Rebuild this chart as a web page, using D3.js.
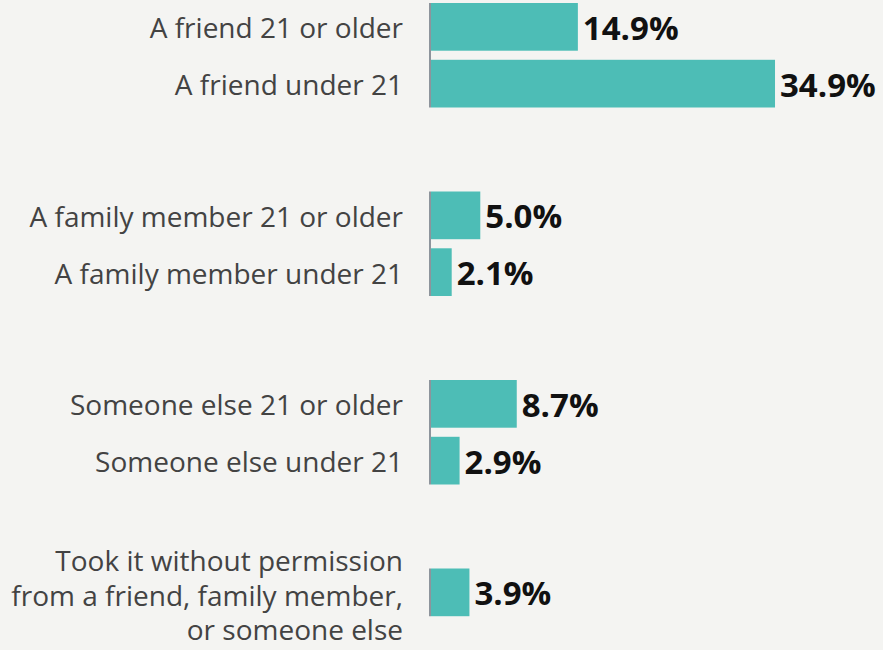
<!DOCTYPE html>
<html>
<head>
<meta charset="utf-8">
<script src="https://cdn.jsdelivr.net/npm/d3@7/dist/d3.min.js"></script>
<style>
  html, body { margin: 0; padding: 0; background: #f4f4f2; }
  svg { display: block; }
</style>
</head>
<body>
<svg id="chart" width="883" height="650"></svg>
<script>
// Source of alcohol: share of respondents by who provided it
const groups = ["friend", "family", "someone", "took"];
const categories = [
  ["A friend 21 or older"],
  ["A friend under 21"],
  ["A family member 21 or older"],
  ["A family member under 21"],
  ["Someone else 21 or older"],
  ["Someone else under 21"],
  ["Took it without permission", "from a friend, family member,", "or someone else"]
];
const groupOf = ["friend", "friend", "family", "family", "someone", "someone", "took"];
const values = [14.9, 34.9, 5.0, 2.1, 8.7, 2.9, 3.9];

const rows = values.map((v, i) => ({
  lines: categories[i],
  group: groupOf[i],
  value: v,
  index: groupOf.slice(0, i).filter(g => g === groupOf[i]).length
}));

const svg = d3.select("#chart");

const axisX = 431;
const x = d3.scaleLinear().domain([0, 35]).range([axisX, 776]);

// Groups stacked vertically; bars within each group
const gy = d3.scaleBand().domain(groups).range([3, 3 + 188.5 * groups.length]).padding(0);
const inner = d3.scaleBand().domain([0, 1]).range([0, 104.5]).paddingInner(0.16).paddingOuter(0);

const barColor = "#4dbdb6";
const rowTop = d => gy(d.group) + inner(d.index);
const rowMid = d => rowTop(d) + inner.bandwidth() / 2;

// Gray baseline next to each group of bars
groups.forEach(g => {
  const members = rows.filter(r => r.group === g);
  const top = d3.min(members, rowTop);
  const bottom = d3.max(members, r => rowTop(r) + inner.bandwidth());
  svg.append("line")
    .attr("x1", axisX - 1).attr("x2", axisX - 1)
    .attr("y1", top).attr("y2", bottom)
    .attr("stroke", "#8d949c")
    .attr("stroke-width", 2);
});

svg.append("g").selectAll("rect")
  .data(rows)
  .join("rect")
  .attr("x", x(0))
  .attr("y", rowTop)
  .attr("width", d => x(d.value) - x(0))
  .attr("height", inner.bandwidth())
  .attr("fill", barColor);

// Value labels
svg.append("g").selectAll("text")
  .data(rows)
  .join("text")
  .attr("x", d => x(d.value) + 5)
  .attr("y", d => rowMid(d) + 13)
  .attr("font-family", "'Open Sans', sans-serif")
  .attr("font-weight", 700)
  .attr("font-size", 33)
  .attr("fill", "#111111")
  .text(d => d3.format(".1f")(d.value) + "%");

// Category labels (right-aligned, multi-line where needed)
const lineH = 34.5;
const cat = svg.append("g").selectAll("text")
  .data(rows)
  .join("text")
  .attr("x", 403)
  .attr("text-anchor", "end")
  .attr("font-family", "'Open Sans', sans-serif")
  .attr("font-size", 28)
  .attr("fill", "#434343");

cat.selectAll("tspan")
  .data(d => d.lines.map((l, i) => ({ l, i, n: d.lines.length, mid: rowMid(d) })))
  .join("tspan")
  .attr("x", 403)
  .attr("y", t => t.mid + 11.5 + (t.i - (t.n - 1) / 2) * lineH + (t.n > 1 ? 2 : 0))
  .text(t => t.l);
</script>
</body>
</html>
